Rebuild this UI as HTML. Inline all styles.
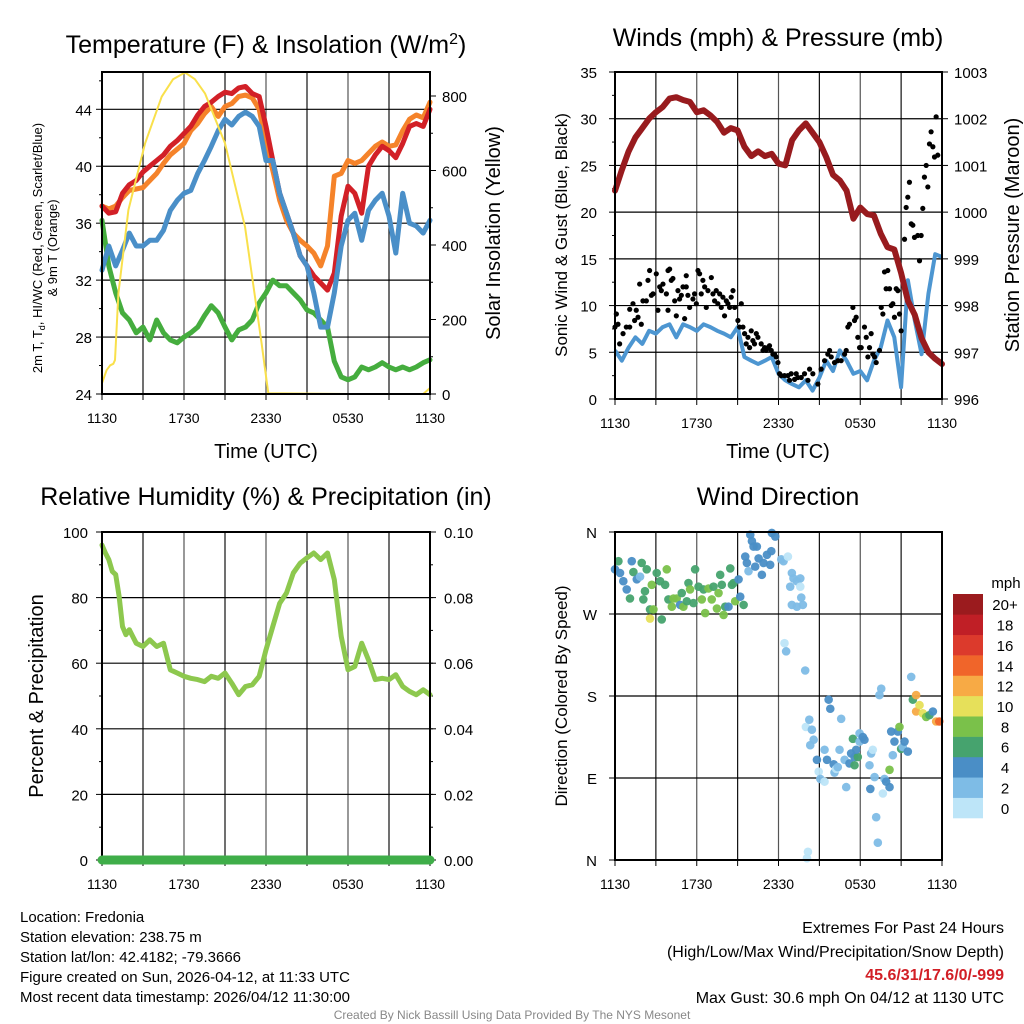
<!DOCTYPE html>
<html><head><meta charset="utf-8"><style>
html,body{margin:0;padding:0;background:#fff;}
svg{display:block;font-family:"Liberation Sans",Arial,sans-serif;}
</style></head><body>
<svg id="c" width="1024" height="1024" viewBox="0 0 1024 1024" xmlns="http://www.w3.org/2000/svg"></svg>
<script>
// ===== DATA =====
const tempHours = [0,0.5,1,1.5,2,2.5,3,3.5,4,4.5,5,5.5,6,6.5,7,7.5,8,8.5,9,9.5,10,10.5,11,11.5,12,12.5,13,13.5,14,14.5,15,15.5,16,16.5,17,17.5,18,18.5,19,19.5,20,20.5,21,21.5,22,22.5,23,23.5,24];
const temp2m = [37.2,36.7,36.8,38.1,38.7,39.0,39.6,40.0,40.4,40.8,41.4,41.8,42.3,42.8,43.6,44.2,44.5,44.9,45.2,45.1,45.5,45.6,45.1,44.9,42.8,40.4,38.1,36.7,35.3,33.7,33.0,32.3,31.8,31.3,32.5,36.5,38.6,38.1,36.7,40.0,40.8,41.4,41.1,40.6,41.6,42.8,43.0,42.8,44.0];
const temp9m = [37.2,37.0,37.2,37.8,38.3,38.4,38.5,39.0,39.5,40.2,40.8,41.2,41.6,42.5,43.0,43.7,44.2,43.5,44.2,44.4,44.9,45.0,44.8,44.0,41.6,39.7,37.6,36.2,35.3,34.8,34.4,33.9,33.0,34.4,39.3,39.5,40.4,40.2,40.4,40.9,41.4,41.7,41.4,41.5,42.5,43.3,43.6,43.4,44.5];
const tempHiWc = [32.7,34.4,33.0,34.1,35.3,34.4,34.4,34.8,34.8,35.5,36.9,37.6,38.1,38.3,39.5,40.4,41.4,42.5,43.3,42.9,43.5,43.8,43.5,42.8,40.4,40.4,38.1,36.7,35.3,33.7,33.0,31.1,28.7,28.7,31.1,34.4,36.2,36.7,34.8,36.9,37.6,38.1,36.5,33.9,38.1,36.0,35.8,35.3,36.2];
const tempDew = [36.2,33.0,31.1,29.7,29.2,28.3,28.7,27.8,29.2,28.3,27.8,27.6,28.0,28.3,28.7,29.5,30.2,29.7,28.7,27.8,28.5,28.7,29.2,30.4,31.1,32.0,31.6,31.6,31.1,30.6,29.9,29.7,29.2,28.7,26.3,25.2,25.0,25.2,25.9,25.7,25.9,26.2,25.9,25.7,25.9,25.7,25.9,26.2,26.4];
const solarHours = [0,0.34,0.6,0.83,0.95,1.2,1.93,3.15,4.37,5.2,6.07,6.8,7.54,9.0,10.46,11.68,12.17,18,23.5,24];
const solarValues = [29,64,77,81,91,270,494,673,798,845,863,845,807,673,449,136,2,0,0,16];
const tempTicks = [24,28,32,36,40,44];
const solarTicks = [0,200,400,600,800];
const timeTickLabels = ["1130","1730","2330","0530","1130"];

const presHours = tempHours;
const pressure = [1000.46,1000.9,1001.3,1001.6,1001.8,1002.0,1002.14,1002.25,1002.43,1002.46,1002.4,1002.36,1002.14,1002.18,1002.07,1001.93,1001.7,1001.8,1001.75,1001.4,1001.2,1001.3,1001.2,1001.25,1001.04,1001.0,1001.54,1001.75,1001.9,1001.7,1001.5,1001.18,1000.8,1000.68,1000.46,999.86,1000.1,999.96,999.93,999.54,999.25,999.2,998.7,998.1,997.8,997.3,997.0,996.86,996.75];
const sonicWind = [5.2,4.1,5.5,6.6,5.9,7.3,7.0,7.7,8.0,6.6,8.0,7.7,7.3,8.0,7.7,7.3,7.0,6.6,7.7,4.5,4.1,3.75,4.1,4.5,2.7,2.0,1.6,1.25,2.0,0.9,2.3,4.1,3.0,5.2,4.1,2.7,3.0,2.0,4.1,5.5,8.4,6.6,1.25,12.7,8.4,4.8,11.25,15.5,15.2];
const gustHours = [0,0.1,0.22,0.34,0.59,0.83,1.08,1.08,1.32,1.44,1.56,1.69,1.81,1.93,2.05,2.3,2.42,2.54,2.67,2.79,3.03,3.15,3.28,3.4,3.52,3.77,3.89,3.89,4.01,4.13,4.25,4.38,4.5,4.62,4.74,4.87,4.99,5.11,5.23,5.23,5.35,5.48,5.72,5.84,5.97,6.09,6.21,6.33,6.45,6.58,6.7,6.82,7.07,7.19,7.31,7.43,7.55,7.68,7.8,7.92,8.04,8.17,8.29,8.41,8.53,8.66,8.78,9.02,9.14,9.27,9.39,9.51,9.63,9.76,9.88,10.0,10.12,10.24,10.37,10.49,10.73,10.86,10.98,11.1,11.22,11.34,11.47,11.59,11.71,11.83,11.96,12.08,12.2,12.44,12.69,12.81,12.93,13.18,13.3,13.42,13.67,13.91,14.16,14.28,14.52,14.89,15.13,15.38,15.62,15.75,15.87,16.11,16.36,16.6,16.85,16.97,17.09,17.21,17.46,17.58,17.7,17.82,17.95,18.07,18.31,18.44,18.56,18.68,18.8,18.92,19.05,19.17,19.41,19.54,19.66,19.78,19.9,20.02,20.15,20.27,20.39,20.51,20.64,20.76,20.88,21.0,21.25,21.37,21.49,21.61,21.74,21.86,21.98,22.22,22.35,22.47,22.59,22.71,22.84,22.96,23.08,23.2,23.33,23.45,23.57,23.69];
const gustValues = [7.7,9.1,8.0,5.9,7.0,7.7,7.7,9.6,10.2,8.4,9.5,8.75,12.3,8.0,10.5,10.5,12.7,13.75,11.1,11.25,13.4,9.5,12.0,11.6,12.3,11.25,13.75,9.5,13.9,12.7,12.9,10.5,8.9,11.6,10.7,11.1,12.0,8.6,13.2,12.0,11.1,9.8,10.7,11.25,10.2,13.75,13.4,11.25,12.7,12.0,9.8,11.6,13.0,11.25,10.5,11.6,10.2,11.25,9.8,10.9,8.9,10.5,10.2,9.8,10.9,11.6,9.8,8.4,7.7,10.2,7.7,7.0,5.9,6.6,5.5,7.3,6.25,5.9,7.0,6.6,5.9,5.2,5.5,5.2,5.5,5.7,5.2,4.8,4.8,4.5,3.9,2.7,2.5,2.5,2.5,2.0,2.7,2.1,2.7,2.3,2.3,2.7,2.0,3.2,2.7,1.6,3.2,4.1,4.8,5.2,4.5,3.9,4.1,4.1,4.8,5.2,7.7,8.0,9.8,8.4,8.75,6.6,5.5,5.5,7.7,6.6,4.5,5.5,7.0,4.8,4.5,3.9,5.2,9.8,9.1,13.6,11.8,13.75,11.8,10.0,10.2,8.75,11.8,11.6,9.1,7.3,17.1,20.5,21.6,23.2,18.75,18.6,17.3,17.5,14.8,17.5,20.4,23.75,25.0,22.7,27.3,28.6,27.0,25.9,30.2,26.1];
const windTicks = [0,5,10,15,20,25,30,35];
const presTicks = [996,997,998,999,1000,1001,1002,1003];

const rhHours = [0,0.25,0.5,0.75,1,1.25,1.5,1.75,2,2.5,3,3.5,4,4.5,5,5.5,6,6.5,7,7.5,8,8.5,9,9.5,10,10.5,11,11.5,12,12.5,13,13.5,14,14.5,15,15.5,16,16.5,17,17.5,18,18.5,19,19.5,20,20.5,21,21.5,22,22.5,23,23.5,24];
const rhValues = [96,93.6,91.6,88,87,80.4,71.2,68.7,70.2,66.1,65.1,67.1,65.1,66.1,58,57,56,55.4,55,54.4,56,55.4,57,53.9,50.4,52.9,53.4,56,64.1,71.2,78.3,81.4,87.5,90.5,92.1,93.6,91.6,93.6,85.5,68.2,58,59,66.1,61,55,55.4,55,56.5,52.9,51.4,50.4,51.9,50.4];
const precipHours = [0,24];
const precipValues = [0,0];
const rhTicks = [0,20,40,60,80,100];
const precipTicks = ["0.00","0.02","0.04","0.06","0.08","0.10"];

const dirHours = [0,0.25,0.37,0.61,0.86,1.1,1.23,1.35,1.6,1.84,1.96,2.2,2.33,2.08,2.57,2.7,2.57,2.82,3.06,3.31,3.43,3.68,3.8,3.92,4.17,4.29,4.53,4.78,5.02,4.9,5.27,5.39,5.51,5.76,5.88,6.13,6.37,6.5,6.62,6.86,7.1,7.23,7.48,7.6,7.72,7.84,7.97,8.09,8.33,8.46,8.58,8.7,8.82,9.07,9.19,9.44,
 9.56,9.68,9.8,9.93,10.05,10.17,10.29,10.41,10.54,10.78,10.9,11.15,11.39,11.47,11.51,11.76,12.2,12.37,12.69,12.86,12.98,13.1,12.98,13.35,13.35,13.6,13.6,13.67,13.79,12.44,12.56,
 13.96,14.16,14.09,14.01,14.26,14.45,14.58,14.33,14.82,14.95,15.07,15.38,15.38,15.56,15.68,15.8,16.05,16.11,16.23,16.35,16.48,16.6,16.85,16.97,17.21,17.33,17.46,17.58,17.58,17.82,17.7,17.95,17.95,18.19,18.31,18.68,18.74,18.8,18.92,19.05,19.17,19.29,19.41,19.54,19.66,19.78,19.9,20.15,20.15,20.27,20.39,20.51,20.76,20.88,21.0,21.12,21.25,21.49,21.74,21.86,22.1,22.1,22.35,22.59,22.84,23.08,23.33,23.57,23.8];
const dirValues = [319,328,315,306,297,287,328,316,308,311,326,295,319,286,275,302,265,275,315,306,264,302,319,286,278,287,287,280,278,293,284,304,297,282,319,300,286,297,271,298,286,300,276,293,313,302,269,278,278,320,302,304,284,308,289,280,
 333,326,317,357,350,344,322,344,331,313,326,335,324,339,359,355,330,328,333,300,315,309,280,278,306,309,300,288,280,238,229,208,9,2,
 146,154,143,132,126,110,97,89,121,86,110,176,166,105,96,100,102,121,155,110,80,106,117,133,113,104,113,121,130,139,135,132,104,78,117,121,91,47,19,181,188,73,89,86,80,99,141,115,130,141,146,122,124,130,119,201,176,163,181,170,161,157,159,163,152,152,133,161,165,166,165,165];
const dirSpeeds = [4,6,4,4,4,6,4,6,4,2.5,6,6,6,6,6,8,10,8,6,6,6,6,8,6,8,8,8,4,8,6,6,6,8,6,6,6,8,6,8,8,8,6,8,8,6,6,8,6,4,6,6,6,8,4,4,6,
 4,4,2.5,4,4,4,4,4,4,4,4,4,4,4,4,4,2.5,2.5,1,2.5,2.5,2.5,2.5,2.5,2.5,2.5,1,2.5,2.5,1,2.5,
 2.5,1,1,1,2.5,2.5,2.5,2.5,4,1,2.5,2.5,1,4,4,4,4,2.5,1,2.5,2.5,2.5,2.5,2.5,4,4,6,4,6,6,4,2.5,2.5,4,4,2.5,4,2.5,1,2.5,2.5,2.5,2.5,2.5,1,2.5,4,4,8,4,2.5,4,4,8,6,2.5,4,4,2.5,6,12,12,10,10,8,6,4,12,14,16,16,18,18,18];
const dirTickLabels = ["N","E","S","W","N"];
const legendLabels = ["0","2","4","6","8","10","12","14","16","18","20+"];
const legendColors = ["#bde5f8","#7ebce6","#4a8ec6","#46a36e","#7ac14a","#e6e05a","#f7aa45","#f0652a","#dc3a2c","#c01f26","#9b1b1e"];

// ===== DRAW =====
const NS="http://www.w3.org/2000/svg";
const svg=document.getElementById('c');
function mk(tag,attrs,parent){const e=document.createElementNS(NS,tag);for(const k in attrs)e.setAttribute(k,attrs[k]);(parent||svg).appendChild(e);return e;}
function txt(s,x,y,size,anchor,parent,extra){const t=mk('text',Object.assign({x:x,y:y,'font-size':size,'text-anchor':anchor||'middle',fill:'#000'},extra||{}),parent);t.textContent=s;return t;}
function lin(d0,d1,r0,r1){return v=>r0+(v-d0)*(r1-r0)/(d1-d0);}

function panelFrame(g,L,R,T,B,hx){
  for(let h=3;h<24;h+=3){const x=hx(h);mk('line',{x1:x,x2:x,y1:T,y2:B,stroke:(h%6==0?'#555':'#111'),'stroke-width':1.2},g);}
  for(let h=0;h<=24;h+=3){const x=hx(h);mk('line',{x1:x,x2:x,y1:B,y2:B+6,stroke:'#000','stroke-width':1},g);}
  timeTickLabels.forEach((s,i)=>{const t=txt(s,hx(i*6),B+29,14,'middle',g);
  
  });
}
function border(g,L,R,T,B){mk('rect',{x:L,y:T,width:R-L,height:B-T,fill:'none',stroke:'#000','stroke-width':2},g);}
function hgrid(g,L,R,y){mk('line',{x1:L,x2:R,y1:y,y2:y,stroke:'#000','stroke-width':1.2},g);}
function pathFrom(xs,ys,fx,fy){return xs.map((v,i)=>(i?'L':'M')+fx(v).toFixed(1)+','+fy(ys[i]).toFixed(1)).join('');}

// ---------- Panel 1 ----------
{
const g=mk('g',{});  
const L=102,R=430,T=72,B=394;
const hx=lin(0,24,L,R), ty=lin(24,44,394,109.3), sy=lin(0,800,394,96);
panelFrame(g,L,R,T,B,hx);
tempTicks.forEach(v=>{const y=ty(v);if(v>24)hgrid(g,L,R,y);mk('line',{x1:L-6,x2:L,y1:y,y2:y,stroke:'#000'},g);const t=txt(String(v),L-10,y+6,15,'end',g);

});
for(let v=26;v<=46;v+=4)mk('line',{x1:L-3,x2:L,y1:ty(v),y2:ty(v),stroke:'#000'},g);
solarTicks.forEach(v=>{const y=sy(v);mk('line',{x1:R,x2:R+6,y1:y,y2:y,stroke:'#000'},g);const t=txt(String(v),R+12,y+6,15,'start',g);

});
for(let v=100;v<=800;v+=200)mk('line',{x1:R,x2:R+3,y1:sy(v),y2:sy(v),stroke:'#000'},g);
const series=[[tempDew,'#45ad3e','dewpoint-line'],[temp9m,'#f5832a','temp-9m-line'],[temp2m,'#d22027','temp-2m-line'],[tempHiWc,'#4a8fc8','heat-index-line']];
series.forEach(s=>{const p=mk('path',{d:pathFrom(tempHours,s[0],hx,ty),fill:'none',stroke:s[1],'stroke-width':5,'stroke-linejoin':'round','stroke-linecap':'round'},g);

});
const sp=mk('path',{d:pathFrom(solarHours,solarValues,hx,sy),fill:'none',stroke:'#f9e04b','stroke-width':2,'stroke-linejoin':'round'},g);


border(g,L,R,T,B);
const t1=txt('',266,53,25,'middle',g);t1.innerHTML='Temperature (F) &amp; Insolation (W/m<tspan dy="-9" font-size="16">2</tspan><tspan dy="9">)</tspan>';


const xt=txt('Time (UTC)',266,458,20,'middle',g);


const yl=mk('text',{transform:'translate(42,248) rotate(-90)','font-size':13,'text-anchor':'middle'},g);
yl.innerHTML='2m T, T<tspan font-size="9" dy="3">d</tspan><tspan dy="-3">, HI/WC (Red, Green, Scarlet/Blue)</tspan>';


const yl2=txt('& 9m T (Orange)',0,0,13,'middle',g,{transform:'translate(57,248) rotate(-90)'});


const yr=txt('Solar Insolation (Yellow)',0,0,20,'middle',g,{transform:'translate(500,233) rotate(-90)'});


}

// ---------- Panel 2 ----------
{
const g=mk('g',{});  
const L=615,R=942,T=72,B=399;
const hx=lin(0,24,L,R), wy=lin(0,35,B,T), py=lin(996,1003,B,T);
panelFrame(g,L,R,T,B,hx);
windTicks.forEach(v=>{const y=wy(v);if(v>0&&v<35)hgrid(g,L,R,y);mk('line',{x1:L-6,x2:L,y1:y,y2:y,stroke:'#000'},g);const t=txt(String(v),L-18,y+6,15,'end',g);

});
for(let v=2.5;v<35;v+=5)mk('line',{x1:L-3,x2:L,y1:wy(v),y2:wy(v),stroke:'#000'},g);
presTicks.forEach(v=>{const y=py(v);mk('line',{x1:R,x2:R+6,y1:y,y2:y,stroke:'#000'},g);const t=txt(String(v),R+12,y+6,15,'start',g);

});
const bp=mk('path',{d:pathFrom(presHours,sonicWind,hx,wy),fill:'none',stroke:'#4d96d1','stroke-width':4,'stroke-linejoin':'round'},g);


gustHours.forEach((h,i)=>{const c=mk('circle',{cx:hx(h),cy:wy(gustValues[i]),r:2.6,fill:'#000'},g);

});
const pp=mk('path',{d:pathFrom(presHours,pressure,hx,py),fill:'none',stroke:'#981b1e','stroke-width':6,'stroke-linejoin':'round','stroke-linecap':'round'},g);


border(g,L,R,T,B);
const t1=txt('Winds (mph) & Pressure (mb)',778,46,25,'middle',g);


const xt=txt('Time (UTC)',778,458,20,'middle',g);


const yl=txt('Sonic Wind & Gust (Blue, Black)',0,0,17,'middle',g,{transform:'translate(567,235) rotate(-90)'});


const yr=txt('Station Pressure (Maroon)',0,0,20,'middle',g,{transform:'translate(1019,235) rotate(-90)'});


}

// ---------- Panel 3 ----------
{
const g=mk('g',{});  
const L=102,R=430,T=532,B=860;
const hx=lin(0,24,L,R), ry=lin(0,100,B,T), py=lin(0,0.1,B,T);
panelFrame(g,L,R,T,B,hx);
rhTicks.forEach(v=>{const y=ry(v);if(v>0&&v<100)hgrid(g,L,R,y);mk('line',{x1:L-6,x2:L,y1:y,y2:y,stroke:'#000'},g);const t=txt(String(v),L-14,y+6,15,'end',g);

});
for(let v=10;v<100;v+=20)mk('line',{x1:L-3,x2:L,y1:ry(v),y2:ry(v),stroke:'#000'},g);
precipTicks.forEach((s,i)=>{const y=ry(i*20);mk('line',{x1:R,x2:R+6,y1:y,y2:y,stroke:'#000'},g);const t=txt(s,R+14,y+6,15,'start',g);

});
for(let v=10;v<100;v+=10)mk('line',{x1:R,x2:R+3,y1:ry(v),y2:ry(v),stroke:'#000'},g);
const rp=mk('path',{d:pathFrom(rhHours,rhValues,hx,ry),fill:'none',stroke:'#8dc84e','stroke-width':5,'stroke-linejoin':'round','stroke-linecap':'round'},g);


border(g,L,R,T,B);
const pl=mk('path',{d:pathFrom(precipHours,precipValues,hx,py),fill:'none',stroke:'#3fae49','stroke-width':9,'stroke-linecap':'round'},g);


const t1=txt('Relative Humidity (%) & Precipitation (in)',266,505,25,'middle',g);


const yl=txt('Percent & Precipitation',0,0,20,'middle',g,{transform:'translate(43,696) rotate(-90)'});


}

// ---------- Panel 4 ----------
{
const g=mk('g',{});  
const L=615,R=942,T=532,B=860;
const hx=lin(0,24,L,R), dy=lin(0,360,B,T);
panelFrame(g,L,R,T,B,hx);
dirTickLabels.forEach((s,i)=>{const y=dy(i*90);if(i>0&&i<4)hgrid(g,L,R,y);mk('line',{x1:L-6,x2:L,y1:y,y2:y,stroke:'#000'},g);const t=txt(s,L-18,y+6,15,'end',g);

});
function spdColor(s){let i=Math.floor(s/2);if(i>10)i=10;return legendColors[i];}
const dg=mk('g',{},g);
dirHours.forEach((h,i)=>{const c=mk('circle',{cx:hx(h),cy:dy(dirValues[i]),r:4.3,fill:spdColor(dirSpeeds[i]),'fill-opacity':0.95},dg);

});
border(g,L,R,T,B);
const t1=txt('Wind Direction',778,505,25,'middle',g);


const yl=txt('Direction (Colored By Speed)',0,0,17,'middle',g,{transform:'translate(567,696) rotate(-90)'});


const lg=mk('g',{},g);  
const mt=txt('mph',1006,588,15,'middle',lg);


const bh=224/legendLabels.length;
legendLabels.forEach((s,i)=>{const y=818-(i+1)*bh;
const r=mk('rect',{x:953,y:y,width:30,height:bh+0.3,fill:legendColors[i]},lg);


const t=txt(s,1005,y+bh/2+6,15,'middle',lg);

});
}

// ---------- Footer text ----------
{
const g=mk('g',{});  
const lines=['Location: Fredonia','Station elevation: 238.75 m','Station lat/lon: 42.4182; -79.3666','Figure created on Sun, 2026-04-12, at 11:33 UTC','Most recent data timestamp: 2026/04/12 11:30:00'];
lines.forEach((s,i)=>{const t=txt(s,20,922+i*20,15,'start',g);

});
const g2=mk('g',{});  
const a=txt('Extremes For Past 24 Hours',1004,933,16,'end',g2);


const b=txt('(High/Low/Max Wind/Precipitation/Snow Depth)',1004,957,16,'end',g2);


const c=txt('45.6/31/17.6/0/-999',1004,980,16,'end',g2,{fill:'#d21f26','font-weight':'bold'});


const d=txt('Max Gust: 30.6 mph On 04/12 at 1130 UTC',1004,1003,16,'end',g2);


const f=txt('Created By Nick Bassill Using Data Provided By The NYS Mesonet',512,1019,12,'middle',svg,{fill:'#888'});


}
</script>
</body></html>
